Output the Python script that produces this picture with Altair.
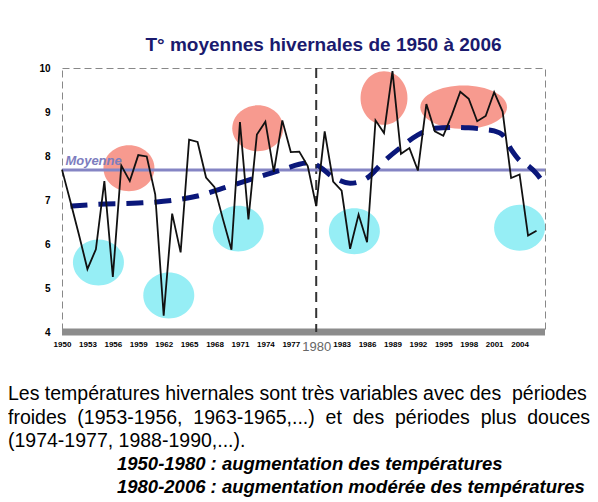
import altair as alt
import pandas as pd

# ---- data ----
ANNEES = list(range(1950, 2007))
TEMP_HIVER = [7.69, 6.96, 6.21, 5.43, 5.88, 7.43, 5.25, 7.78, 7.43, 8.02,
              7.99, 7.13, 4.37, 6.69, 5.81, 8.37, 8.32, 7.51, 7.29, 6.56,
              5.87, 8.77, 6.56, 8.49, 8.78, 7.64, 8.81, 8.09, 8.10, 7.77,
              6.86, 8.56, 7.42, 7.21, 5.89, 6.67, 6.04, 8.81, 8.52, 9.93,
              8.05, 8.18, 7.67, 9.18, 8.56, 8.46, 8.93, 9.46, 9.30, 8.79,
              8.91, 9.45, 9.01, 7.50, 7.58, 6.19, 6.30]

MM_ANNEES = [1951, 1954, 1959, 1963, 1966, 1969, 1972, 1976, 1979, 1980,
             1982, 1984, 1986, 1988, 1990, 1992, 1994, 1996, 1998, 2000,
             2001, 2002, 2003, 2004, 2005, 2006, 2007]
MM_TEMP = [6.86, 6.90, 6.93, 6.99, 7.09, 7.27, 7.45, 7.69, 7.84, 7.80,
           7.52, 7.38, 7.50, 7.88, 8.20, 8.48, 8.63, 8.65, 8.64, 8.60,
           8.57, 8.48, 8.15, 7.90, 7.78, 7.60, 7.34]

MOY_ANNEES = [1950, 2007]
MOY_TEMP = [7.68, 7.68]

ELL_ANNEE = [1957.9, 1973.1, 1988.0, 1997.4, 1954.3, 1962.6, 1970.8, 1984.5, 2004.0]
ELL_TEMP = [7.72, 8.63, 9.32, 9.11, 5.58, 4.83, 6.35, 6.29, 6.37]
ELL_TYPE = ["chaud", "chaud", "chaud", "chaud", "froid", "froid", "froid", "froid", "froid"]
ELL_FORME = ["rond", "rond", "haut", "large", "rond", "rond", "rond", "rond", "rond"]

TICKS_X = list(range(1950, 2005, 3))
TICKS_Y = [4, 5, 6, 7, 8, 9, 10]

NB = "\u00a0"
TITRE = "T° moyennes hivernales de 1950 à 2006"
PARAGRAPHE = ["Les températures hivernales sont très variables avec des" + NB + " périodes",
              "froides" + NB + " (1953-1956," + NB + " 1963-1965,...)" + NB + " et" + NB + " des"
              + NB + " périodes" + NB + " plus" + NB + " douces",
              "(1974-1977, 1988-1990,...)."]
CONCLUSIONS = ["1950-1980 : augmentation des températures",
               "1980-2006 : augmentation modérée des températures"]

FONT = "Liberation Sans"

df_t = pd.DataFrame({"annee": ANNEES, "temp": TEMP_HIVER})
df_mm = pd.DataFrame({"annee": MM_ANNEES, "temp": MM_TEMP})
df_moy = pd.DataFrame({"annee": MOY_ANNEES, "temp": MOY_TEMP})
df_ell = pd.DataFrame({"annee": ELL_ANNEE, "temp": ELL_TEMP,
                       "type": ELL_TYPE, "forme": ELL_FORME})

xs = alt.Scale(domain=[1950, 2007], nice=False, zero=False)
ys = alt.Scale(domain=[4, 10], nice=False, zero=False)

ax_x = alt.Axis(values=TICKS_X, format="d", ticks=False, domain=False, grid=False,
                labelFont=FONT,
                labelFontSize={"expr": "datum.value == 1980 ? 13 : 8"},
                labelFontWeight={"expr": "datum.value == 1980 ? 'normal' : 'bold'"},
                labelColor={"expr": "datum.value == 1980 ? '#666666' : '#000000'"},
                labelPadding=8, labelOverlap=False, labelFlush=False)
ax_y = alt.Axis(values=TICKS_Y, ticks=False, domain=False, grid=False,
                labelFont=FONT, labelFontSize=10, labelFontWeight="bold",
                labelColor="#000000", labelPadding=12)

X = alt.X("annee:Q", scale=xs, axis=ax_x, title=None)
Y = alt.Y("temp:Q", scale=ys, axis=ax_y, title=None)

ellipses = alt.Chart(df_ell).mark_point(filled=True, opacity=1, size=2600, strokeWidth=0).encode(
    x=X, y=Y,
    color=alt.Color("type:N", scale=alt.Scale(domain=["chaud", "froid"],
                                              range=["#F79A8F", "#96EEF5"]), legend=None),
    shape=alt.Shape("forme:N", scale=alt.Scale(
        domain=["rond", "haut", "large"],
        range=["M-1,0A1,0.9,0,1,0,1,0A1,0.9,0,1,0,-1,0Z",
               "M-0.92,0A0.92,1.05,0,1,0,0.92,0A0.92,1.05,0,1,0,-0.92,0Z",
               "M-1.7,0A1.7,0.85,0,1,0,1.7,0A1.7,0.85,0,1,0,-1.7,0Z"]), legend=None),
)

sol = alt.Chart(pd.DataFrame({"temp": [4]})).mark_rule(color="#8c8c8c", strokeWidth=7).encode(
    y=Y)

coupure = alt.Chart(pd.DataFrame({"annee": [1980]})).mark_rule(
    color="#333333", strokeWidth=2, strokeDash=[10, 6]).encode(x=X)

moyenne = alt.Chart(df_moy).mark_line(color="#8585C4", strokeWidth=3).encode(x=X, y=Y)

moyenne_txt = alt.Chart(pd.DataFrame({"annee": [1950.4], "temp": [7.72], "t": ["Moyenne"]})).mark_text(
    align="left", baseline="bottom", font=FONT, fontSize=13, fontStyle="italic",
    fontWeight="bold", color="#7D7DBE").encode(x=X, y=Y, text="t:N")

mm = alt.Chart(df_mm).mark_line(color="#0A177A", strokeWidth=5, strokeDash=[17, 11],
                                interpolate="monotone").encode(x=X, y=Y)

ligne = alt.Chart(df_t).mark_line(color="#111111", strokeWidth=1.8).encode(x=X, y=Y)

para = alt.Chart(pd.DataFrame({"t": ["\n".join(PARAGRAPHE)]})).mark_text(
    align="left", baseline="alphabetic", font=FONT, fontSize=19.5, color="#000000",
    lineBreak="\n", lineHeight=23.5).encode(
    text="t:N", x=alt.value(-54), y=alt.value(332))

concl = alt.Chart(pd.DataFrame({"t": ["\n".join(CONCLUSIONS)]})).mark_text(
    align="left", baseline="alphabetic", font=FONT, fontSize=18.5, color="#000000",
    fontStyle="italic", fontWeight="bold", lineBreak="\n", lineHeight=23).encode(
    text="t:N", x=alt.value(55), y=alt.value(402))

chart = alt.layer(ellipses, sol, coupure, moyenne, mm, ligne, moyenne_txt, para, concl).properties(
    width=483, height=264,
    title=alt.TitleParams(TITRE, font=FONT, fontSize=19, fontWeight="bold",
                          color="#1A1A6E", anchor="middle", offset=8, dx=20),
    autosize=alt.AutoSizeParams(type="none"),
    padding={"left": 54, "top": 60, "right": 45, "bottom": 170},
).configure_view(stroke="#888888", strokeDash=[7, 4], strokeWidth=1)

chart.save("out.html", embed_options={"renderer": "svg", "actions": False})
